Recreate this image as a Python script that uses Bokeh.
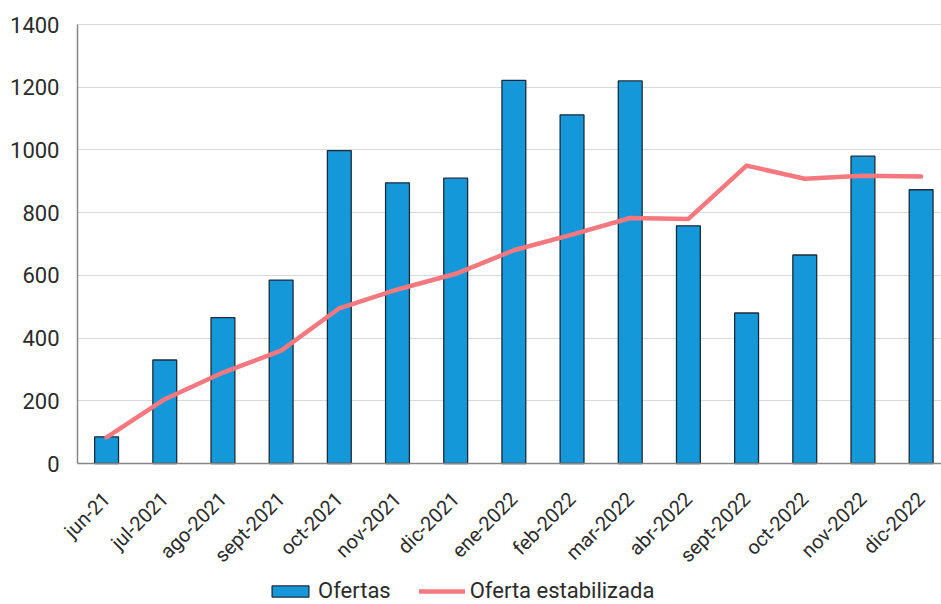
import math
from bokeh.plotting import figure
from bokeh.models import Range1d, FixedTicker, Legend, LegendItem
from bokeh.embed import file_html
from bokeh.resources import INLINE

categories = ["jun-21", "jul-2021", "ago-2021", "sept-2021", "oct-2021", "nov-2021",
              "dic-2021", "ene-2022", "feb-2022", "mar-2022", "abr-2022", "sept-2022",
              "oct-2022", "nov-2022", "dic-2022"]
ofertas = [85, 330, 465, 585, 998, 895, 910, 1222, 1112, 1220, 758, 480, 665, 980, 873]
oferta_estabilizada = [83, 205, 290, 360, 495, 555, 605, 680, 730, 783, 780, 950, 908, 918, 915]
y_ticks = [0, 200, 400, 600, 800, 1000, 1200, 1400]

xs = list(range(len(categories)))
FONT = "Roboto"
TXT = "#2b2b2b"

# the frame fills the page; the value area is x in [-0.5, 14.35], y in [0, 1400]
X_LEFT, X_RIGHT = -0.5, 14.35
PX_PER_CAT = 864 / (X_RIGHT - X_LEFT)
X_START = X_LEFT - 77 / PX_PER_CAT
Y_MAX = 1400
PX_PER_UNIT = 439.0 / Y_MAX
Y_END = Y_MAX + 24 / PX_PER_UNIT
Y_START = Y_MAX - 580 / PX_PER_UNIT

p = figure(width=941, height=604, output_backend="svg", toolbar_location=None,
           x_range=Range1d(X_START, X_RIGHT), y_range=Range1d(Y_START, Y_END),
           min_border_left=0, min_border_right=0, min_border_top=0, min_border_bottom=0)
p.outline_line_color = None
p.background_fill_color = "white"
p.border_fill_color = "white"

bars = p.vbar(x=xs, top=ofertas, width=0.41, bottom=0,
              fill_color="#1598DA", line_color="#1C2B3A", line_width=1.3)
line = p.line(x=xs, y=oferta_estabilizada, line_color="#F4787E", line_width=4.5,
              line_join="round", line_cap="round")

# axes
p.xaxis.fixed_location = 0
p.xaxis.bounds = (X_LEFT, X_RIGHT)
p.xaxis.ticker = FixedTicker(ticks=xs)
p.xaxis.major_label_overrides = {i: c for i, c in zip(xs, categories)}
p.xaxis.major_label_orientation = math.pi / 4
p.xaxis.major_tick_line_color = None
p.xaxis.major_tick_out = 0
p.xaxis.major_tick_in = 0
p.xaxis.minor_tick_line_color = None
p.xaxis.axis_line_color = "#868686"
p.xaxis.axis_line_width = 1.5
p.xaxis.major_label_text_font = FONT
p.xaxis.major_label_text_font_size = "20px"
p.xaxis.major_label_text_color = TXT
p.xaxis.major_label_standoff = 32

p.yaxis.fixed_location = X_LEFT
p.yaxis.bounds = (0, Y_MAX)
p.yaxis.ticker = FixedTicker(ticks=y_ticks)
p.yaxis.major_tick_line_color = None
p.yaxis.major_tick_out = 0
p.yaxis.major_tick_in = 0
p.yaxis.minor_tick_line_color = None
p.yaxis.axis_line_color = "#868686"
p.yaxis.axis_line_width = 1.5
p.yaxis.major_label_text_font = FONT
p.yaxis.major_label_text_font_size = "22px"
p.yaxis.major_label_text_color = TXT
p.yaxis.major_label_standoff = 18

p.xgrid.grid_line_color = None
p.ygrid.ticker = FixedTicker(ticks=y_ticks)
p.ygrid.grid_line_color = "#d9d9d9"
p.ygrid.grid_line_width = 1
try:
    p.ygrid.cross_bounds = (X_LEFT, X_RIGHT)
except Exception:
    pass

legend = Legend(items=[LegendItem(label="Ofertas", renderers=[bars]),
                       LegendItem(label="Oferta estabilizada", renderers=[line])],
                orientation="horizontal", location=(267, 1))
legend.glyph_width = 46
legend.glyph_height = 14
legend.label_height = 18
legend.label_standoff = 5
legend.spacing = 28
legend.padding = 0
legend.margin = 0
legend.border_line_color = None
legend.background_fill_alpha = 0
legend.label_text_font = FONT
legend.label_text_font_size = "22px"
legend.label_text_color = TXT
p.add_layout(legend, "center")

open("out.html", "w").write(file_html(p, INLINE))
